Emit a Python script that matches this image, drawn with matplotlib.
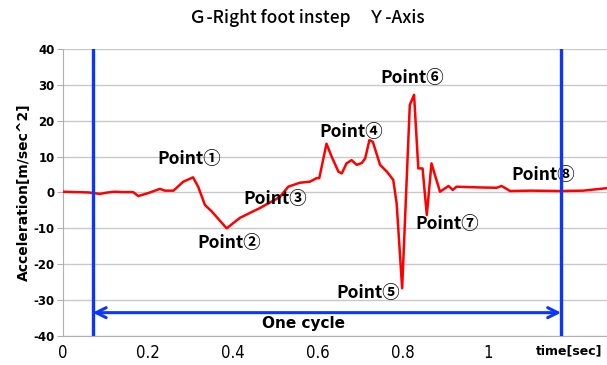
import matplotlib.pyplot as plt
import numpy as np

plt.rcParams['font.family'] = ['DejaVu Sans', 'Noto Sans CJK JP']
plt.rcParams['axes.unicode_minus'] = False

# data
t = [0.0, 0.03, 0.06, 0.087, 0.10, 0.12, 0.14, 0.165, 0.177, 0.20, 0.228, 0.24, 0.26,
     0.283, 0.306, 0.318, 0.334, 0.35, 0.385, 0.416, 0.464, 0.51, 0.53, 0.557, 0.581,
     0.597, 0.603, 0.62, 0.632, 0.648, 0.656, 0.667, 0.679, 0.691, 0.703, 0.711, 0.721,
     0.729, 0.746, 0.762, 0.777, 0.785, 0.798, 0.816, 0.826, 0.836, 0.846, 0.856, 0.867,
     0.887, 0.907, 0.917, 0.926, 0.98, 1.02, 1.032, 1.052, 1.10, 1.17, 1.224, 1.28]
acc = [0.2, 0.1, 0.0, -0.4, -0.1, 0.2, 0.1, 0.1, -1.0, -0.2, 1.0, 0.5, 0.5,
       3.0, 4.2, 1.6, -3.5, -5.3, -10.0, -7.1, -4.3, -1.3, 1.6, 2.7, 3.0,
       4.0, 4.0, 13.6, 10.0, 5.8, 5.3, 8.1, 9.0, 7.7, 8.2, 9.5, 14.6,
       14.1, 7.7, 5.8, 3.5, -3.0, -26.7, 24.4, 27.2, 6.7, 6.7, -6.3, 8.1,
       0.2, 1.8, 0.7, 1.6, 1.4, 1.3, 1.8, 0.4, 0.5, 0.4, 0.5, 1.2]

labels = ['Point①', 'Point②', 'Point③', 'Point④', 'Point⑤', 'Point⑥', 'Point⑦', 'Point⑧']
label_t = [0.296, 0.39, 0.50, 0.678, 0.718, 0.821, 0.904, 1.13]
label_v = [9.2, -14.0, -1.8, 16.8, -28.0, 32.0, -8.8, 4.9]

cycle_start = 0.07
cycle_end = 1.172

fig = plt.figure(figsize=(6.07, 3.65), dpi=100)
ax = fig.add_axes([0.1038, 0.0795, 0.8962, 0.7865])

ax.plot(t, acc, color='#ff0000', lw=1.8, zorder=3)

ax.axvline(cycle_start, color='#0a36ff', lw=2.4, zorder=4)
ax.axvline(cycle_end, color='#0a36ff', lw=2.4, zorder=4)
ax.annotate('', xy=(cycle_start, -33.5), xytext=(cycle_end, -33.5),
            arrowprops=dict(arrowstyle='<->', color='#0a36ff', lw=2.2,
                            mutation_scale=18, shrinkA=0, shrinkB=0), zorder=4)
ax.text((cycle_start + cycle_end) / 2 - 0.056, -36.4, 'One cycle', ha='center', va='center',
        fontsize=11, fontweight='bold')

for lab, lt, lv in zip(labels, label_t, label_v):
    ax.text(lt, lv, lab, ha='center', va='center', fontsize=12.5, fontweight='bold',
            family=['Noto Sans CJK JP', 'DejaVu Sans'])

ax.set_xlim(0, 1.28)
ax.set_ylim(-40, 40)
ax.set_yticks(np.arange(-40, 41, 10))
ax.set_xticks([0, 0.2, 0.4, 0.6, 0.8, 1.0, 1.2])
ax.set_xticklabels(['0', '0.2', '0.4', '0.6', '0.8', '1', ''], fontsize=12, fontstretch='condensed')
for lb in ax.get_yticklabels():
    lb.set_fontweight('bold')
    lb.set_fontsize(8.5)
ax.text(1.19, -44.2, 'time[sec]', ha='center', va='center', fontsize=9, fontweight='bold')

ax.grid(axis='y', color='#c8c8c8', lw=1)
ax.set_axisbelow(True)
for s in ['top', 'right']:
    ax.spines[s].set_visible(False)
ax.spines['left'].set_color('#b0b0b0')
ax.spines['bottom'].set_color('#b0b0b0')
ax.tick_params(axis='x', length=0, pad=6)
ax.tick_params(axis='y', length=4, color='#b0b0b0', pad=2)

ax.set_ylabel('Acceleration[m/sec^2]', fontsize=10, fontweight='bold', labelpad=2)
fig.text(0.505, 0.95, 'Ｇ-Right foot instep　Ｙ-Axis', ha='center', va='center',
         fontsize=12.5, fontweight='medium', family=['Noto Sans CJK JP', 'DejaVu Sans'])

fig.savefig('out.png', dpi=100)
